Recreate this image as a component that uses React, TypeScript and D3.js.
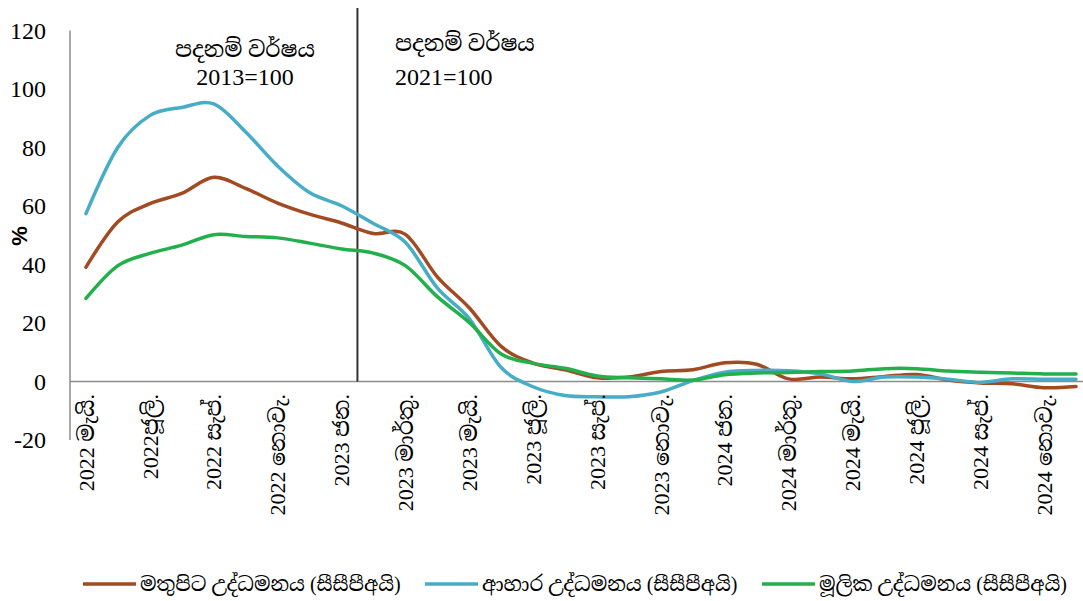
import React from "react";
import * as d3 from "d3";

const months: string[] = [
  "2022-05", "2022-06", "2022-07", "2022-08", "2022-09", "2022-10", "2022-11", "2022-12",
  "2023-01", "2023-02", "2023-03", "2023-04", "2023-05", "2023-06", "2023-07", "2023-08",
  "2023-09", "2023-10", "2023-11", "2023-12", "2024-01", "2024-02", "2024-03", "2024-04",
  "2024-05", "2024-06", "2024-07", "2024-08", "2024-09", "2024-10", "2024-11", "2024-12",
];

const tickLabels: string[] = [
  "2022 මැයි.", "2022ජූලි.", "2022 සැප්.", "2022 නොවැ.", "2023 ජන.", "2023 මාර්තු.",
  "2023 මැයි.", "2023 ජූලි.", "2023 සැප්.", "2023 නොවැ.", "2024 ජන.", "2024 මාර්තු.",
  "2024 මැයි.", "2024 ජූලි.", "2024 සැප්.", "2024 නොවැ.",
];

const headline: number[] = [
  39.1, 54.6, 60.8, 64.3, 69.8, 66.0, 61.0, 57.2, 54.2, 50.6, 50.3, 35.8, 25.2, 12.0, 6.3, 4.0,
  1.3, 1.5, 3.4, 4.0, 6.4, 5.9, 0.9, 1.5, 0.9, 1.7, 2.4, 0.5, -0.5, -0.8, -2.1, -1.7,
];

const food: number[] = [
  57.4, 80.1, 90.9, 93.7, 94.9, 85.3, 73.7, 64.6, 60.1, 54.0, 47.6, 32.0, 21.5, 4.8, -1.8, -4.8,
  -5.2, -5.2, -3.6, 0.3, 3.2, 3.8, 3.7, 2.6, 0.0, 1.5, 1.5, 0.8, -0.3, 0.9, 0.8, 0.8,
];

const core: number[] = [
  28.4, 39.6, 43.8, 46.6, 50.2, 49.6, 49.1, 47.3, 45.3, 43.9, 39.6, 29.0, 20.2, 9.4, 6.2, 4.5,
  1.9, 1.3, 0.9, 0.5, 2.3, 2.9, 3.1, 3.4, 3.6, 4.4, 4.4, 3.6, 3.2, 2.9, 2.6, 2.6,
];

const yTicks: number[] = [-20, 0, 20, 40, 60, 80, 100, 120];

const seriesNames: string[] = [
  "මතුපිට උද්ධමනය (සීසීපීඅයි)",
  "ආහාර උද්ධමනය (සීසීපීඅයි)",
  "මූලික උද්ධමනය (සීසීපීඅයි)",
];
const seriesColors: string[] = ["#A24B23", "#47ADC7", "#21B04B"];

const baseLabelLeft: string[] = ["පදනම් වර්ෂය", "2013=100"];
const baseLabelRight: string[] = ["පදනම් වර්ෂය", "2021=100"];

const W = 1083;
const H = 601;
const FONT = "'Liberation Serif', 'Times New Roman', 'Noto Serif Sinhala', 'Noto Sans Sinhala', serif";

export default function App() {
  const plotLeft = 70;
  const plotRight = 1092;
  const x = d3.scaleBand<string>().domain(months).range([plotLeft, plotRight]);
  const xc = (i: number) => (x(months[i]) as number) + x.bandwidth() / 2;
  const y = d3.scaleLinear().domain([-20, 120]).range([440, 30.5]);

  const line = d3
    .line<number>()
    .x((_, i) => xc(i))
    .y((v) => y(v))
    .curve(d3.curveCardinal.tension(0));

  const allSeries = [headline, food, core];
  const breakX = (xc(8) + xc(9)) / 2;

  const legendX = [83, 425, 762];

  return (
    <div style={{ position: "absolute", left: 0, top: 0 }}>
      <svg width={W} height={H} style={{ display: "block", background: "#fff" }} fontFamily={FONT}>
        {/* y axis line */}
        <line x1={plotLeft} x2={plotLeft} y1={y(120)} y2={y(-20)} stroke="#8c8c8c" strokeWidth={1.5} />
        {/* zero line */}
        <line x1={plotLeft} x2={plotRight} y1={y(0)} y2={y(0)} stroke="#8c8c8c" strokeWidth={1.5} />
        {/* y tick labels */}
        {yTicks.map((t) => (
          <text key={t} x={46} y={y(t)} dy="0.35em" textAnchor="end" fontSize={24} fill="#000">
            {t}
          </text>
        ))}
        {/* y axis title */}
        <text
          transform={`translate(19,236) rotate(-90)`}
          textAnchor="middle"
          dy="0.35em"
          fontSize={22}
          fontWeight="bold"
          fontFamily="'Liberation Sans', Arial, sans-serif"
        >
          %
        </text>
        {/* base break line */}
        <line x1={breakX} x2={breakX} y1={8} y2={y(0)} stroke="#333" strokeWidth={2} />
        {/* base labels */}
        <text x={245} y={57} textAnchor="middle" fontSize={22}>{baseLabelLeft[0]}</text>
        <text x={245} y={85} textAnchor="middle" fontSize={24}>{baseLabelLeft[1]}</text>
        <text x={395} y={51} textAnchor="start" fontSize={22}>{baseLabelRight[0]}</text>
        <text x={395} y={85} textAnchor="start" fontSize={24}>{baseLabelRight[1]}</text>
        {/* series */}
        {allSeries.map((s, k) => (
          <path
            key={k}
            d={line(s) as string}
            fill="none"
            stroke={seriesColors[k]}
            strokeWidth={3.5}
            strokeLinejoin="round"
            strokeLinecap="round"
          />
        ))}
        {/* x tick labels */}
        {tickLabels.map((lab, j) => (
          <text
            key={j}
            transform={`translate(${xc(j * 2)},394) rotate(-90)`}
            textAnchor="end"
            dy="0.35em"
            fontSize={22}
          >
            {lab}
          </text>
        ))}
        {/* legend */}
        {seriesNames.map((n, k) => (
          <g key={k}>
            <line
              x1={legendX[k]}
              x2={legendX[k] + 53}
              y1={584}
              y2={584}
              stroke={seriesColors[k]}
              strokeWidth={3.5}
            />
            <text x={legendX[k] + 57} y={584} dy="0.35em" fontSize={20}>
              {n}
            </text>
          </g>
        ))}
      </svg>
    </div>
  );
}
